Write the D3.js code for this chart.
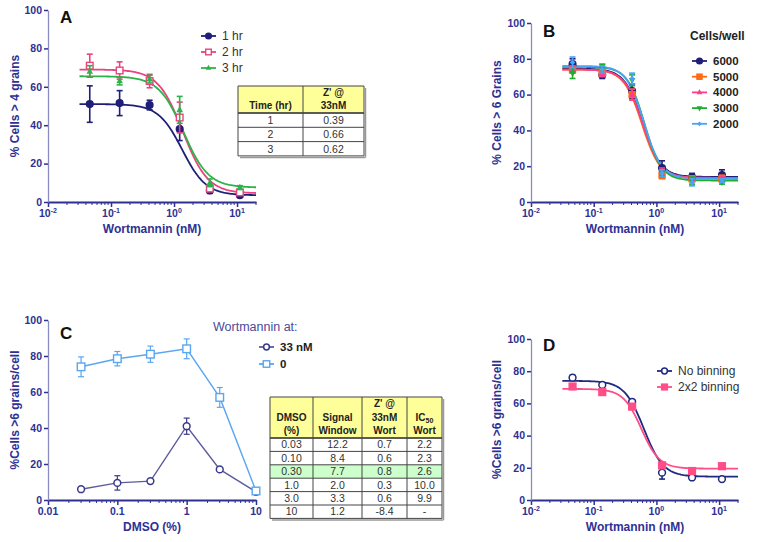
<!DOCTYPE html>
<html>
<head>
<meta charset="utf-8">
<script src="https://cdn.jsdelivr.net/npm/d3@7"></script>
<style>
  body { margin: 0; background: #fff; }
  svg { display: block; }
  text { font-family: Arial, "Liberation Sans", sans-serif; }
</style>
</head>
<body>
<svg id="fig" width="760" height="542"></svg>
<script>
// ---- data ----
const wortDoses = [0.046, 0.137, 0.41, 1.23, 3.7, 11.1];
const dmsoDoses = [0.03, 0.1, 0.3, 1, 3, 10];

// Panel A: incubation time
const aNames = ['1 hr', '2 hr', '3 hr'];
const aMean = [[51, 51.5, 50.5, 38, 6, 3.5], [71, 68.5, 63, 44, 7, 5], [68, 63, 64, 48, 10, 7.5]];
const aErr = [[9.5, 6.5, 2.5, 6, 1.5, 0.8], [6, 4.5, 3.5, 8, 1.5, 1], [3, 2, 2, 7, 2, 1]];
// fit params: top, bottom, logIC50, hill
const aFit = [[51, 3.5, 0.13, 2.3], [69, 4.5, 0.14, 2.2], [65.5, 7.5, 0.15, 2.2]];
const aTableHead = ['Time (hr)', "Z' @|33nM"];
const aTableRows = [['1', '0.39'], ['2', '0.66'], ['3', '0.62']];

// Panel B: cell density
const bNames = ['6000', '5000', '4000', '3000', '2000'];
const bMean = [[77, 71, 62, 19, 14, 15], [74, 72, 60, 15, 13, 13], [74, 72, 60, 17, 13, 13], [72, 76, 68, 16, 12, 11], [78, 74, 69, 16, 11, 12]];
const bErr = [[3, 2, 4, 4, 2, 3], [2, 1, 3, 2, 1, 2], [2, 2, 3, 2, 1, 1], [3, 1, 3, 2, 2, 1], [3, 2, 3, 2, 2, 1]];
const bFit = [[74.5, 14, -0.22, 3], [74, 13, -0.23, 3], [74, 13.5, -0.22, 3], [75.5, 12, -0.19, 3.2], [76, 13, -0.2, 3.1]];

// Panel C: DMSO tolerance
const cNames = ['33 nM', '0'];
const cMean = [[6, 9.5, 10.5, 41, 17, 4.5], [74, 78.5, 81, 84, 57, 5]];
const cErr = [[1, 4, 1, 4.5, 1, 1], [5.5, 4, 4.5, 5.5, 5.5, 1]];
const cTableHead = ['DMSO|(%)', 'Signal|Window', "Z' @|33nM|Wort", 'IC50|Wort'];
const cTableRows = [
  ['0.03', '12.2', '0.7', '2.2'],
  ['0.10', '8.4', '0.6', '2.3'],
  ['0.30', '7.7', '0.8', '2.6'],
  ['1.0', '2.0', '0.3', '10.0'],
  ['3.0', '3.3', '0.6', '9.9'],
  ['10', '1.2', '-8.4', '-']
];

// Panel D: binning
const dNames = ['No binning', '2x2 binning'];
const dMean = [[76, 71.5, 61, 17, 14, 13], [70.5, 67, 58, 21.5, 18, 21]];
const dErr = [[1.5, 1, 1, 4, 1, 1], [1, 1, 1, 1.5, 1, 1]];
const dFit = [[74, 14.5, -0.2, 2.8], [69, 19.5, -0.24, 3]];

const yTicks = [0, 20, 40, 60, 80, 100];

// ---- styles ----
const NAVY = '#2e3192';
const svg = d3.select('#fig');

function logistic(p, x) {
  const [top, bottom, logIC, hill] = p;
  return bottom + (top - bottom) / (1 + Math.pow(10, (Math.log10(x) - logIC) * hill));
}

function symbol(g, type, cx, cy, color, size) {
  const s = size || 3.2;
  if (type === 'circle' || type === 'ocircle') {
    g.append('circle').attr('cx', cx).attr('cy', cy).attr('r', s)
      .attr('fill', type === 'circle' ? color : '#fff').attr('stroke', color).attr('stroke-width', 1.5);
  } else if (type === 'square' || type === 'osquare') {
    g.append('rect').attr('x', cx - s).attr('y', cy - s).attr('width', 2 * s).attr('height', 2 * s)
      .attr('fill', type === 'square' ? color : '#fff').attr('stroke', color).attr('stroke-width', 1.4);
  } else if (type === 'tri') {
    g.append('path').attr('d', `M${cx},${cy - s - 0.5}L${cx + s},${cy + s - 1}L${cx - s},${cy + s - 1}Z`).attr('fill', color);
  } else if (type === 'itri') {
    g.append('path').attr('d', `M${cx},${cy + s + 0.5}L${cx + s},${cy - s + 1}L${cx - s},${cy - s + 1}Z`).attr('fill', color);
  } else if (type === 'diamond') {
    g.append('path').attr('d', `M${cx},${cy - s}L${cx + s},${cy}L${cx},${cy + s}L${cx - s},${cy}Z`).attr('fill', color);
  }
}

function panel(cfg) {
  const g = svg.append('g');
  const x = d3.scaleLog().domain(cfg.xDomain).range([cfg.x0, cfg.x1]);
  const y = d3.scaleLinear().domain([0, 100]).range([cfg.yBot, cfg.yTop]);

  // x axis: major + minor ticks
  const majors = cfg.majors;
  const minors = [];
  majors.forEach(m => { for (let k = 2; k <= 9; k++) { const v = m * k; if (v <= cfg.xDomain[1]) minors.push(v); } });
  const xAx = g.append('g').attr('transform', `translate(0,${cfg.yBot})`)
    .call(d3.axisBottom(x).tickValues(majors).tickSize(5).tickSizeOuter(0).tickFormat(''));
  xAx.select('.domain').attr('stroke', NAVY).attr('stroke-width', 2);
  xAx.selectAll('.tick line').attr('stroke', NAVY).attr('stroke-width', 1.5);
  g.append('g').selectAll('line').data(minors).join('line')
    .attr('x1', d => x(d)).attr('x2', d => x(d))
    .attr('y1', cfg.yBot).attr('y2', cfg.yBot + 3)
    .attr('stroke', NAVY).attr('stroke-width', 1);

  // x tick labels
  majors.forEach((m, i) => {
    const t = g.append('text').attr('x', x(m)).attr('y', cfg.yBot + 15)
      .attr('text-anchor', 'middle').attr('fill', NAVY)
      .attr('font-size', 10.5).attr('font-weight', 'bold');
    if (cfg.plainLabels) {
      t.text(cfg.plainLabels[i]);
    } else {
      const e = Math.round(Math.log10(m));
      t.append('tspan').text('10');
      t.append('tspan').attr('dy', -4).attr('font-size', 7).text(e);
    }
  });

  // y axis
  const yAx = g.append('g').attr('transform', `translate(${cfg.x0},0)`)
    .call(d3.axisLeft(y).tickValues(yTicks).tickSize(4).tickSizeOuter(0));
  yAx.select('.domain').attr('stroke', '#8b8bc4').attr('stroke-width', 1.3);
  yAx.selectAll('.tick line').attr('stroke', NAVY).attr('stroke-width', 1.5);
  yAx.selectAll('.tick text').attr('fill', NAVY).attr('font-size', 10.5)
    .attr('font-weight', 'bold').attr('font-family', 'Arial, "Liberation Sans", sans-serif').attr('x', -6);

  // axis titles
  g.append('text')
    .attr('transform', `translate(${cfg.yLabelX},${(cfg.yTop + cfg.yBot) / 2}) rotate(-90)`)
    .attr('text-anchor', 'middle').attr('dy', '0.35em')
    .attr('fill', NAVY).attr('font-size', 12).attr('font-weight', 'bold')
    .text(cfg.yLabel);
  g.append('text').attr('x', cfg.xLabelX).attr('y', cfg.yBot + 31)
    .attr('text-anchor', 'middle').attr('fill', NAVY)
    .attr('font-size', 12).attr('font-weight', 'bold').text(cfg.xLabel);

  // panel letter
  g.append('text').attr('x', cfg.x0 + 12).attr('y', cfg.letterY)
    .attr('font-size', 17).attr('font-weight', 'bold').attr('fill', '#111').text(cfg.letter);

  // curves
  const plot = g.append('g');
  cfg.series.forEach(s => {
    if (s.fit) {
      const lo = Math.log10(cfg.xDomain[0]) + 0.5, hi = Math.log10(cfg.xDomain[1]);
      const pts = d3.range(0, 121).map(i => Math.pow(10, lo + (hi - lo) * i / 120));
      plot.append('path').datum(pts)
        .attr('d', d3.line().x(d => x(d)).y(d => y(logistic(s.fit, d))))
        .attr('fill', 'none').attr('stroke', s.color).attr('stroke-width', 1.8);
    } else {
      plot.append('path').datum(s.mean)
        .attr('d', d3.line().x((d, i) => x(cfg.doses[i])).y(d => y(d)))
        .attr('fill', 'none').attr('stroke', s.lineColor || s.color).attr('stroke-width', 1.4);
    }
  });
  // error bars + markers
  cfg.series.forEach(s => {
    s.mean.forEach((m, i) => {
      const cx = x(cfg.doses[i]);
      const e = s.err[i];
      const eb = plot.append('g').attr('stroke', s.color).attr('stroke-width', s.ebw || 1.6);
      eb.append('line').attr('x1', cx).attr('x2', cx).attr('y1', y(m - e)).attr('y2', y(m + e));
      eb.append('line').attr('x1', cx - 3).attr('x2', cx + 3).attr('y1', y(m - e)).attr('y2', y(m - e));
      eb.append('line').attr('x1', cx - 3).attr('x2', cx + 3).attr('y1', y(m + e)).attr('y2', y(m + e));
    });
    s.mean.forEach((m, i) => symbol(plot, s.marker, x(cfg.doses[i]), y(m), s.color, s.size));
  });

  // legend
  const lg = g.append('g');
  if (cfg.legendTitle) {
    lg.append('text').attr('x', cfg.legendTitle.x).attr('y', cfg.legendTitle.y).attr('dy', '0.35em')
      .attr('font-size', cfg.legendTitle.size).attr('font-weight', cfg.legendTitle.weight)
      .attr('fill', cfg.legendTitle.color).text(cfg.legendTitle.text);
  }
  cfg.series.forEach((s, i) => {
    const ly = cfg.legend.y0 + i * cfg.legend.dy;
    const lx = cfg.legend.x;
    lg.append('line').attr('x1', lx).attr('x2', lx + 15).attr('y1', ly).attr('y2', ly)
      .attr('stroke', s.lineColor || s.color).attr('stroke-width', 1.8);
    symbol(lg, s.marker, lx + 7.5, ly, s.color, (s.size || 3.2) * 0.85);
    lg.append('text').attr('x', lx + 21).attr('y', ly).attr('dy', '0.35em')
      .attr('font-size', cfg.legend.size).attr('font-weight', cfg.legend.weight)
      .attr('fill', cfg.legend.color).text(s.name);
  });
  return g;
}

function table(cfg) {
  const g = svg.append('g');
  const colX = cfg.cols;
  const nRows = cfg.rows.length;
  const rowY = d3.range(nRows + 1).map(i => cfg.headBot + i * cfg.rowH);
  // header fill
  g.append('rect').attr('x', colX[0]).attr('y', cfg.top).attr('width', colX[colX.length - 1] - colX[0])
    .attr('height', cfg.headBot - cfg.top).attr('fill', '#ffff99');
  if (cfg.highlight != null) {
    g.append('rect').attr('x', colX[0]).attr('y', rowY[cfg.highlight])
      .attr('width', colX[colX.length - 1] - colX[0]).attr('height', cfg.rowH).attr('fill', '#ccffcc');
  }
  // grid
  const gl = g.append('g').attr('stroke', '#444').attr('stroke-width', 1);
  colX.forEach(cx => gl.append('line').attr('x1', cx).attr('x2', cx).attr('y1', cfg.top).attr('y2', rowY[nRows]));
  [cfg.top].concat(rowY).forEach(ry => gl.append('line').attr('x1', colX[0]).attr('x2', colX[colX.length - 1]).attr('y1', ry).attr('y2', ry));
  gl.append('line').attr('x1', colX[0]).attr('x2', colX[colX.length - 1]).attr('y1', cfg.headBot).attr('y2', cfg.headBot).attr('stroke-width', 1.6);
  // shadow edge
  g.append('line').attr('x1', colX[colX.length - 1] + 1.5).attr('x2', colX[colX.length - 1] + 1.5)
    .attr('y1', cfg.top + 2).attr('y2', rowY[nRows] + 1.5).attr('stroke', '#999').attr('stroke-width', 1.5);
  g.append('line').attr('x1', colX[0] + 2).attr('x2', colX[colX.length - 1] + 1.5)
    .attr('y1', rowY[nRows] + 1.5).attr('y2', rowY[nRows] + 1.5).attr('stroke', '#999').attr('stroke-width', 1.5);

  // header text (bottom-aligned lines)
  cfg.head.forEach((h, j) => {
    const lines = h.split('|');
    const cx = (colX[j] + colX[j + 1]) / 2;
    lines.forEach((ln, k) => {
      const t = g.append('text').attr('x', cx)
        .attr('y', cfg.headBot - 4 - (lines.length - 1 - k) * cfg.headLine)
        .attr('text-anchor', 'middle').attr('font-size', cfg.headSize).attr('font-weight', 'bold').attr('fill', '#222');
      if (ln === 'IC50') {
        t.append('tspan').text('IC');
        t.append('tspan').attr('font-size', cfg.headSize - 3).attr('dy', 2).text('50');
      } else t.text(ln);
    });
  });
  cfg.rows.forEach((r, i) => {
    r.forEach((v, j) => {
      g.append('text').attr('x', (colX[j] + colX[j + 1]) / 2).attr('y', rowY[i] + cfg.rowH / 2)
        .attr('dy', '0.36em').attr('text-anchor', 'middle')
        .attr('font-size', cfg.bodySize).attr('fill', '#333').text(v);
    });
  });
}

// ---- Panel A ----
panel({
  letter: 'A', letterY: 23,
  x0: 48, x1: 256, yTop: 10, yBot: 202,
  xDomain: [0.01, 20], majors: [0.01, 0.1, 1, 10], doses: wortDoses,
  yLabel: '% Cells > 4 grains', yLabelX: 15, xLabel: 'Wortmannin (nM)', xLabelX: 152,
  series: aNames.map((n, i) => ({
    name: n, mean: aMean[i], err: aErr[i], fit: aFit[i],
    color: ['#1f1f78', '#e8447f', '#2db34a'][i],
    marker: ['circle', 'osquare', 'tri'][i], size: [3.3, 3.3, 3.3][i]
  })),
  legend: { x: 201, y0: 36, dy: 16, size: 12, weight: 'normal', color: '#333' }
});
table({
  cols: [238, 303, 364], top: 86, headBot: 113, rowH: 14.3,
  head: aTableHead, rows: aTableRows, headLine: 13, headSize: 10, bodySize: 10.5
});

// ---- Panel B ----
panel({
  letter: 'B', letterY: 37,
  x0: 531, x1: 738, yTop: 23, yBot: 202,
  xDomain: [0.01, 20], majors: [0.01, 0.1, 1, 10], doses: wortDoses,
  yLabel: '% Cells > 6 Grains', yLabelX: 497, xLabel: 'Wortmannin (nM)', xLabelX: 635,
  series: bNames.map((n, i) => ({
    name: n, mean: bMean[i], err: bErr[i], fit: bFit[i],
    color: ['#1f1f78', '#ff6a13', '#ff3d8a', '#1fae2b', '#4aa3f5'][i],
    marker: ['circle', 'square', 'tri', 'itri', 'diamond'][i], size: [3.3, 3, 3.3, 3.3, 2.8][i]
  })),
  legendTitle: { x: 690, y: 36, text: 'Cells/well', size: 12, weight: 'bold', color: '#222' },
  legend: { x: 692, y0: 61, dy: 15.7, size: 11.5, weight: 'bold', color: '#222' }
});

// ---- Panel C ----
panel({
  letter: 'C', letterY: 339,
  x0: 48, x1: 256, yTop: 320, yBot: 500,
  xDomain: [0.01, 10], majors: [0.01, 0.1, 1, 10], plainLabels: ['0.01', '0.1', '1', '10'], doses: dmsoDoses,
  yLabel: '%Cells >6 grains/cell', yLabelX: 15, xLabel: 'DMSO (%)', xLabelX: 152,
  series: cNames.map((n, i) => ({
    name: n, mean: cMean[i], err: cErr[i],
    color: ['#3a3a8c', '#5aa6f0'][i], lineColor: ['#5c5c9e', '#5aa6f0'][i],
    marker: ['ocircle', 'osquare'][i], size: [3.4, 3.8][i], ebw: 1.2
  })),
  legendTitle: { x: 213, y: 327, text: 'Wortmannin at:', size: 12.5, weight: 'normal', color: '#4a4a9a' },
  legend: { x: 259, y0: 347, dy: 17, size: 11.5, weight: 'bold', color: '#222' }
});
table({
  cols: [270, 313, 362, 407, 442], top: 397, headBot: 438, rowH: 13.4,
  head: cTableHead, rows: cTableRows, highlight: 2, headLine: 13.5, headSize: 10, bodySize: 10.5
});

// ---- Panel D ----
panel({
  letter: 'D', letterY: 351,
  x0: 531, x1: 738, yTop: 339, yBot: 500,
  xDomain: [0.01, 20], majors: [0.01, 0.1, 1, 10], doses: wortDoses,
  yLabel: '%Cells >6 grains/cell', yLabelX: 497, xLabel: 'Wortmannin (nM)', xLabelX: 635,
  series: dNames.map((n, i) => ({
    name: n, mean: dMean[i], err: dErr[i], fit: dFit[i],
    color: ['#1f2a80', '#ff4d88'][i],
    marker: ['ocircle', 'square'][i], size: [3.4, 3.4][i]
  })),
  legend: { x: 657, y0: 371, dy: 16, size: 12, weight: 'normal', color: '#333' }
});
</script>
</body>
</html>
